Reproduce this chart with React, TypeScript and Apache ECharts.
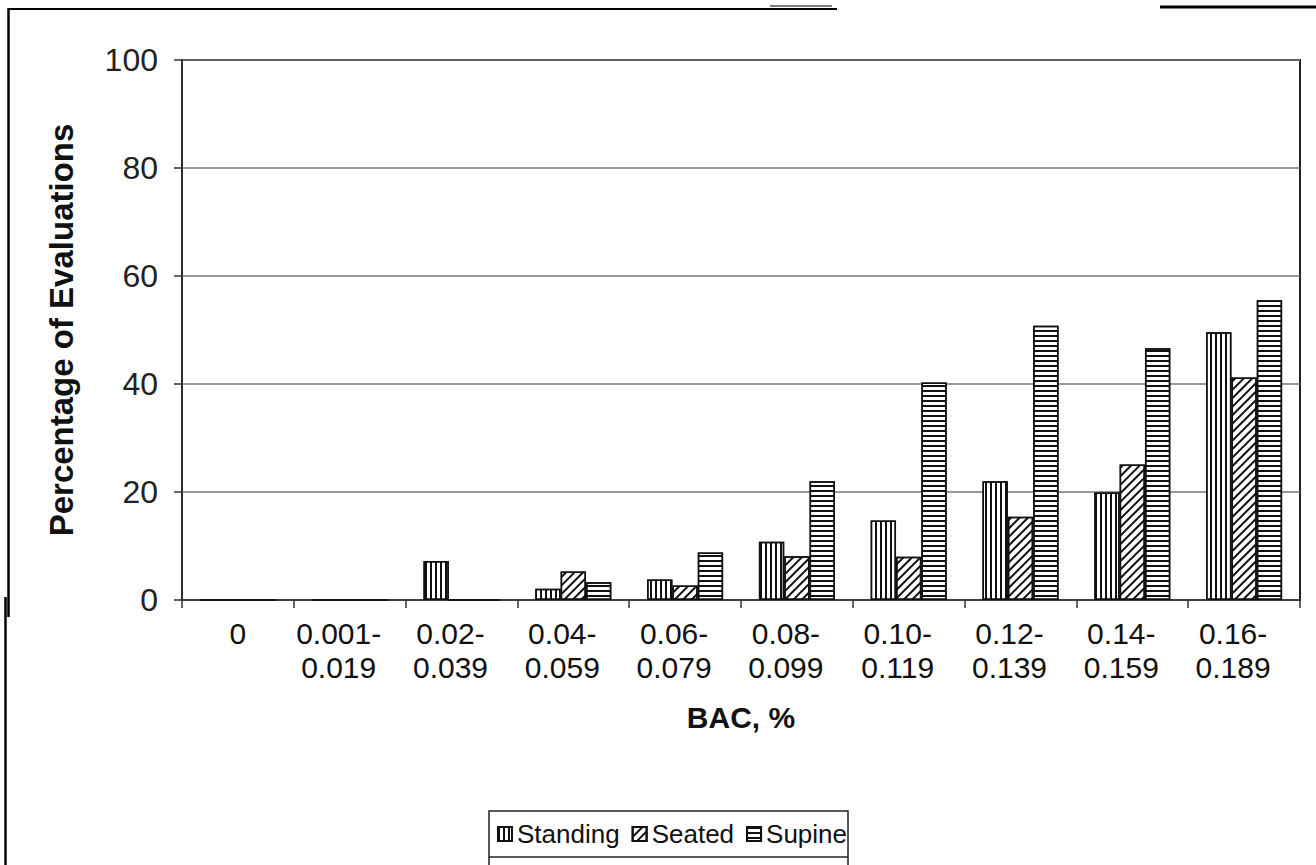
import React, { useEffect, useRef } from "react";
import * as echarts from "echarts";

// BAC ranges (%) on the category axis
const categories = [
  "0",
  "0.001-\n0.019",
  "0.02-\n0.039",
  "0.04-\n0.059",
  "0.06-\n0.079",
  "0.08-\n0.099",
  "0.10-\n0.119",
  "0.12-\n0.139",
  "0.14-\n0.159",
  "0.16-\n0.189",
];

// Percentage of evaluations per position
const standing = [0, 0, 7.2, 2.1, 3.8, 10.8, 14.7, 22.0, 19.9, 49.6];
const seated = [0, 0, 0, 5.3, 2.7, 8.1, 8.0, 15.4, 25.1, 41.2];
const supine = [0, 0, 0, 3.3, 8.8, 22.0, 40.3, 50.8, 46.6, 55.5];

const FONT = "'Liberation Sans', Arial, Helvetica, sans-serif";
const INK = "#111";

const hatchVertical = {
  symbol: "rect",
  symbolSize: 1,
  dashArrayX: [2, 3],
  dashArrayY: [4, 0],
  rotation: 0,
  color: INK,
  backgroundColor: "#fff",
};

const hatchDiagonal = {
  symbol: "rect",
  symbolSize: 1,
  dashArrayX: [2, 4],
  dashArrayY: [4, 0],
  rotation: Math.PI / 4,
  color: INK,
  backgroundColor: "#fff",
};

const hatchHorizontal = {
  symbol: "rect",
  symbolSize: 1,
  dashArrayX: [4, 0],
  dashArrayY: [2, 3],
  rotation: 0,
  color: INK,
  backgroundColor: "#fff",
};

function barSeries(name: string, data: number[], decal: any) {
  return {
    name,
    type: "bar",
    data,
    barGap: "0%",
    barCategoryGap: "32%",
    itemStyle: {
      color: "#fff",
      borderColor: INK,
      borderWidth: 1.5,
      decal,
    },
  };
}

// two-line range labels sit a little left of the category centre
function rangeLabel(value: string) {
  if (value.indexOf("\n") < 0) return value;
  return value
    .split("\n")
    .map((line) => "{r|" + line + "}")
    .join("\n");
}

export default function App() {
  const ref = useRef<HTMLDivElement>(null);

  useEffect(() => {
    if (!ref.current) return;
    const chart = echarts.init(ref.current, undefined, { renderer: "svg" });
    chart.setOption({
      animation: false,
      backgroundColor: "#fff",
      textStyle: { fontFamily: FONT },
      grid: {
        left: 182,
        right: 16,
        top: 60,
        bottom: 265,
        show: true,
        borderColor: "#222",
        borderWidth: 2,
      },
      legend: {
        left: 497,
        top: 821,
        padding: 0,
        itemGap: 12,
        itemWidth: 14,
        itemHeight: 14,
        icon: "rect",
        textStyle: { fontFamily: FONT, fontSize: 26, color: INK },
        data: ["Standing", "Seated", "Supine"],
      },
      xAxis: {
        type: "category",
        data: categories,
        name: "BAC, %",
        nameLocation: "middle",
        nameGap: 102,
        nameTextStyle: { fontFamily: FONT, fontSize: 30, fontWeight: "bold", color: INK },
        axisLine: { lineStyle: { color: "#333", width: 1.5 } },
        axisTick: { show: true, length: 8, lineStyle: { color: "#333", width: 1.5 } },
        axisLabel: {
          interval: 0,
          margin: 16,
          fontFamily: FONT,
          fontSize: 30,
          lineHeight: 34,
          color: INK,
          formatter: rangeLabel,
          rich: {
            r: {
              fontFamily: FONT,
              fontSize: 30,
              lineHeight: 34,
              color: INK,
              padding: [0, 22, 0, 0],
            },
          },
        },
      },
      yAxis: {
        type: "value",
        min: 0,
        max: 100,
        interval: 20,
        name: "Percentage of Evaluations",
        nameLocation: "middle",
        nameGap: 104,
        nameTextStyle: { fontFamily: FONT, fontSize: 33, fontWeight: "bold", color: INK },
        axisLine: { show: true, lineStyle: { color: "#333", width: 1.5 } },
        axisTick: { show: true, length: 8, lineStyle: { color: "#333", width: 1.5 } },
        axisLabel: { margin: 24, fontFamily: FONT, fontSize: 32, color: "#222" },
        splitLine: { show: true, lineStyle: { color: "#777", width: 1.5 } },
      },
      series: [
        barSeries("Standing", standing, hatchVertical),
        barSeries("Seated", seated, hatchDiagonal),
        barSeries("Supine", supine, hatchHorizontal),
      ],
      graphic: [
        // page frame remnants
        { type: "line", shape: { x1: 8, y1: 9, x2: 837, y2: 9 }, style: { stroke: "#000", lineWidth: 2 } },
        { type: "line", shape: { x1: 770, y1: 6, x2: 832, y2: 6 }, style: { stroke: "#555", lineWidth: 1.5 } },
        { type: "line", shape: { x1: 1160, y1: 7, x2: 1316, y2: 7 }, style: { stroke: "#000", lineWidth: 3 } },
        { type: "line", shape: { x1: 8.5, y1: 8, x2: 8.5, y2: 617 }, style: { stroke: "#000", lineWidth: 2.5 } },
        { type: "line", shape: { x1: 5.5, y1: 597, x2: 5.5, y2: 865 }, style: { stroke: "#000", lineWidth: 2.5 } },
        // legend box
        {
          type: "rect",
          shape: { x: 489, y: 811, width: 359, height: 100 },
          style: { fill: "none", stroke: "#222", lineWidth: 1.5 },
          z: -1,
        },
        { type: "line", shape: { x1: 489, y1: 857, x2: 848, y2: 857 }, style: { stroke: "#222", lineWidth: 1.5 } },
      ],
    });
    return () => chart.dispose();
  }, []);

  return (
    <div
      ref={ref}
      style={{ position: "fixed", left: 0, top: 0, width: 1316, height: 865 }}
    />
  );
}
